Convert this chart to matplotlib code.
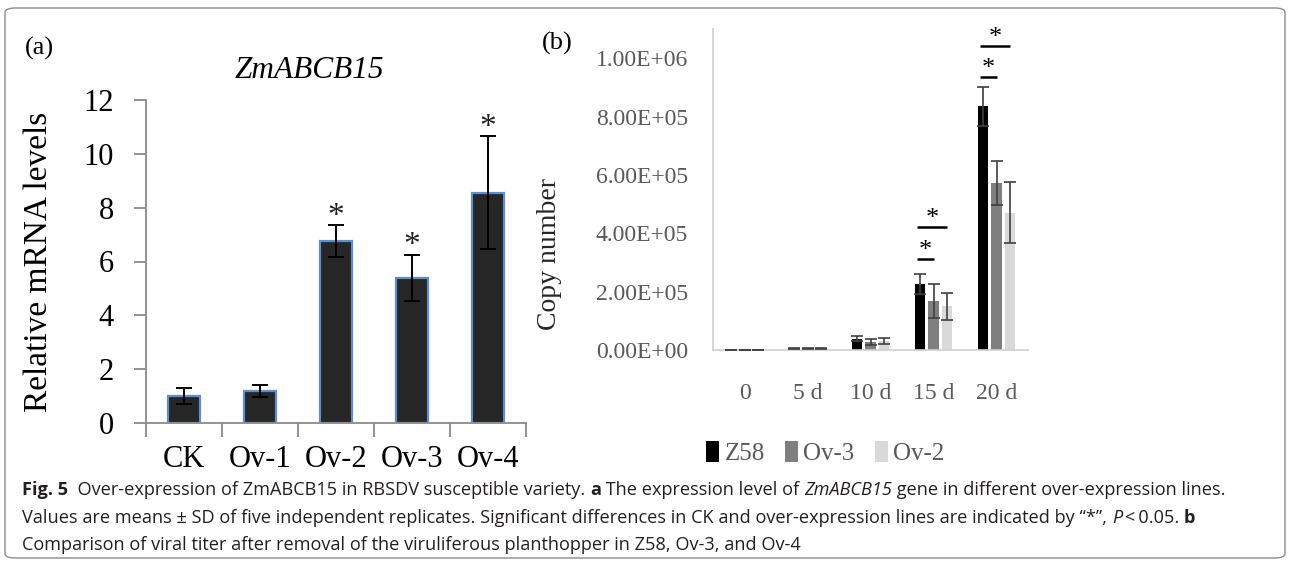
import matplotlib
matplotlib.use("Agg")
import matplotlib.pyplot as plt
import numpy as np
from matplotlib.patches import FancyBboxPatch

# panel (a): relative mRNA levels of ZmABCB15
lines_a = ["CK", "Ov-1", "Ov-2", "Ov-3", "Ov-4"]
mrna_mean = [1.0, 1.2, 6.75, 5.4, 8.55]
mrna_sd = [0.3, 0.22, 0.6, 0.85, 2.1]
mrna_sig = [False, False, True, True, True]

# panel (b): copy number after removal of planthopper
days = ["0", "5 d", "10 d", "15 d", "20 d"]
series_names = ["Z58", "Ov-3", "Ov-2"]
z58 = [0, 5e3, 3.9e4, 2.27e5, 8.35e5]
z58_sd = [0, 2e3, 8e3, 3.5e4, 6.6e4]
ov3 = [0, 5e3, 2.7e4, 1.68e5, 5.72e5]
ov3_sd = [0, 2e3, 1e4, 5.7e4, 7.5e4]
ov2 = [0, 5e3, 3.1e4, 1.5e5, 4.7e5]
ov2_sd = [0, 2e3, 1e4, 4.6e4, 1.05e5]
# significance bars: (day index, from series, to series, height)
sig_b = [(3, 0, 1, 3.12e5), (3, 0, 2, 4.22e5), (4, 0, 1, 9.35e5), (4, 0, 2, 1.043e6)]
ytick_b = ["0.00E+00", "2.00E+05", "4.00E+05", "6.00E+05", "8.00E+05", "1.00E+06"]

serif = ["Liberation Serif", "DejaVu Serif"]
plt.rcParams["font.family"] = serif

fig = plt.figure(figsize=(12.9, 5.64), dpi=100)

# ---------- panel (a)
ax = fig.add_axes([146 / 1290, 1 - 423 / 564, 380 / 1290, 323 / 564])
x = np.arange(len(lines_a))
ax.bar(x, mrna_mean, width=0.42, color="#262626", edgecolor="#5b8fd0", linewidth=1.6, zorder=2)
ax.errorbar(x, mrna_mean, yerr=mrna_sd, fmt="none", ecolor="black", elinewidth=1.4,
            capsize=6, capthick=1.4, zorder=3)
for i in range(len(lines_a)):
    if mrna_sig[i]:
        ax.text(x[i], mrna_mean[i] + mrna_sd[i] - 0.25, "*", ha="center", va="bottom",
                fontsize=24, color="#222222")
ax.set_xlim(-0.5, 4.5)
ax.set_ylim(0, 12)
ax.set_yticks(np.arange(0, 13, 2))
ax.set_xticks(x)
ax.set_xticklabels(lines_a)
ax.set_xticks(np.arange(-0.5, 5, 1), minor=True)
for s in ["top", "right"]:
    ax.spines[s].set_visible(False)
for s in ["left", "bottom"]:
    ax.spines[s].set_color("#8a8a8a")
    ax.spines[s].set_linewidth(1.3)
ax.tick_params(axis="x", which="major", length=0, pad=16, labelsize=22)
ax.tick_params(axis="x", which="minor", length=10, width=1.3, color="#8a8a8a")
ax.tick_params(axis="y", length=9, width=1.3, color="#8a8a8a", labelsize=22, pad=14)
ax.set_ylabel("Relative mRNA levels", fontsize=24)
ax.yaxis.set_label_coords((54 - 146) / 380, 0.5)
fig.text(309 / 1290, 1 - 71 / 564, "ZmABCB15", fontsize=22.5, style="italic", ha="center", va="center")
fig.text(25 / 1290, 1 - 48 / 564, "(a)", fontsize=19, va="center", ha="left")

# ---------- panel (b)
bx = fig.add_axes([713 / 1290, 1 - 350 / 564, 315 / 1290, 321 / 564])
xb = np.arange(len(days))
colors = ["#000000", "#7f7f7f", "#d9d9d9"]
vals = [z58, ov3, ov2]
sds = [z58_sd, ov3_sd, ov2_sd]
offs = [-0.215, 0.0, 0.215]
for k in range(3):
    bx.bar(xb + offs[k], vals[k], width=0.17, color=colors[k], label=series_names[k], zorder=2)
    bx.errorbar(xb + offs[k], vals[k], yerr=sds[k], fmt="none", ecolor="#404040",
                elinewidth=1.2, capsize=4, capthick=1.2, zorder=3)
for d, a, b, h in sig_b:
    x0 = xb[d] + offs[a] - 0.05
    x1 = xb[d] + offs[b]
    bx.plot([x0, x1], [h, h], color="black", lw=1.8, solid_capstyle="butt")
    bx.text((x0 + x1) / 2, h - 1.0e4, "*", ha="center", va="bottom", fontsize=19)
bx.set_xlim(-0.5, 4.5)
bx.set_ylim(0, 1.1e6)
bx.set_yticks(np.arange(0, 1.01e6, 2e5))
bx.set_yticklabels(ytick_b)
bx.set_xticks(xb)
bx.set_xticklabels(days)
for s in ["top", "right"]:
    bx.spines[s].set_visible(False)
for s in ["left", "bottom"]:
    bx.spines[s].set_color("#d0d0d0")
    bx.spines[s].set_linewidth(1.2)
bx.tick_params(axis="both", length=0, labelsize=17, labelcolor="#595959")
bx.tick_params(axis="x", pad=24)
bx.tick_params(axis="y", pad=18)
bx.set_ylabel("Copy number", fontsize=20, color="#262626")
bx.yaxis.set_label_coords((562 - 713) / 315, (350 - 254) / 321)
fig.text(557 / 1290, 1 - 43 / 564, "(b)", fontsize=19, va="center", ha="center")
fig.legend(*bx.get_legend_handles_labels(), loc="center", bbox_to_anchor=(825 / 1290, 1 - 453 / 564),
           ncol=3, frameon=False, fontsize=18, handlelength=0.55, handleheight=0.9,
           handletextpad=0.2, columnspacing=0.8, labelcolor="#595959")

# ---------- caption
cap_font = ["Open Sans", "Liberation Sans", "DejaVu Sans"]
renderer = fig.canvas.get_renderer()

cap_lines = [
    (490, [("Fig. 5", "bold", "normal"),
           ("  Over-expression of ZmABCB15 in RBSDV susceptible variety. ", "normal", "normal"),
           ("a", "bold", "normal"),
           (" The expression level of ", "normal", "normal"),
           ("ZmABCB15", "normal", "italic"),
           (" gene in different over-expression lines.", "normal", "normal")]),
    (518, [("Values are means \u00b1 SD of five independent replicates. Significant differences in CK and "
            "over-expression lines are indicated by \u201c*\u201d, ", "normal", "normal"),
           ("P", "normal", "italic"),
           ("\u2009<\u20090.05. ", "normal", "normal"),
           ("b", "bold", "normal")]),
    (545, [("Comparison of viral titer after removal of the viruliferous planthopper in Z58, Ov-3, and Ov-4",
            "normal", "normal")]),
]


def line_width(pieces, size):
    w = 0
    for txt, weight, style in pieces:
        t = fig.text(0, 0, txt, fontsize=size, family=cap_font, fontweight=weight, style=style)
        w += t.get_window_extent(renderer).width
        t.remove()
    return w


cap_size = 10.0 * 1200 / line_width(cap_lines[0][1], 10.0)


def caption_line(y, pieces):
    xpos = 22 / 1290
    for txt, weight, style in pieces:
        t = fig.text(xpos, 1 - y / 564, txt, fontsize=cap_size, family=cap_font, fontweight=weight,
                     style=style, va="center", ha="left", color="#231f20")
        xpos += t.get_window_extent(renderer).width / fig.bbox.width


for y, pieces in cap_lines:
    caption_line(y, pieces)

border = FancyBboxPatch((5 / 1290, 6 / 564), 1280 / 1290, 550 / 564, transform=fig.transFigure,
                        boxstyle="round,pad=0,rounding_size=0.008", fill=False,
                        edgecolor="#8c8c8c", linewidth=1.0)
fig.patches.append(border)

fig.savefig("out.png", dpi=100)
